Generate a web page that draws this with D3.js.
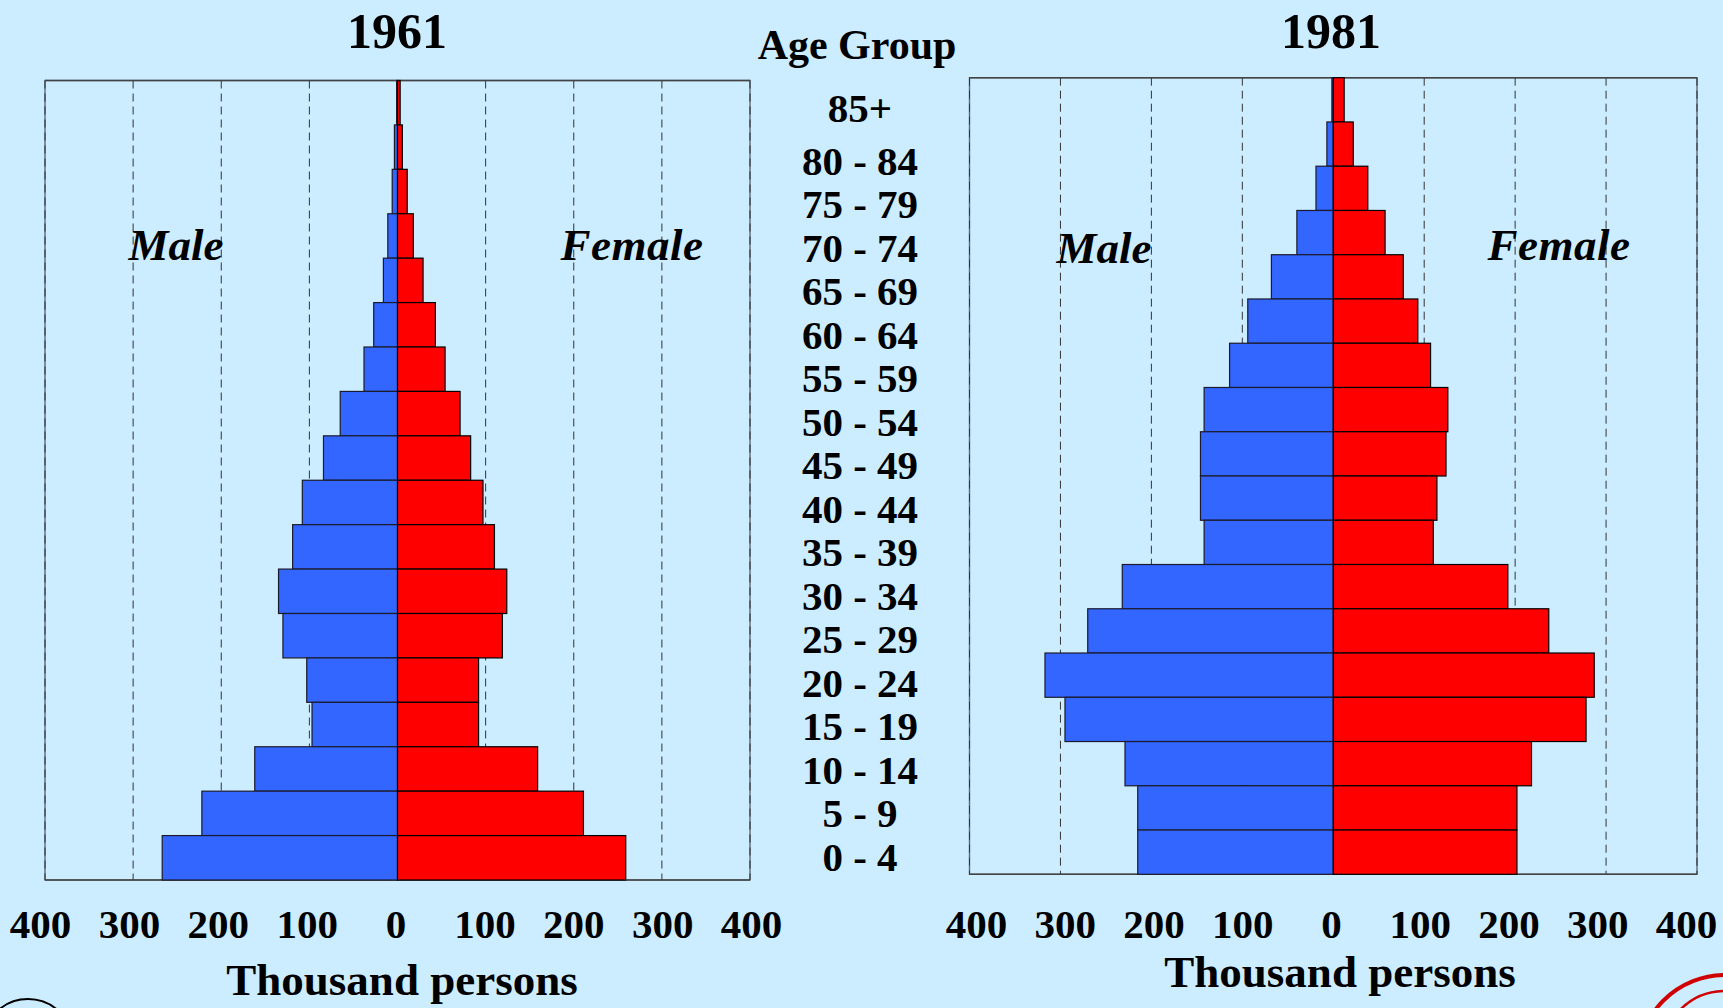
<!DOCTYPE html>
<html>
<head>
<meta charset="utf-8">
<script src="https://cdn.jsdelivr.net/npm/d3@7"></script>
<style>
  html, body { margin: 0; padding: 0; background: #CCECFF; }
  svg { display: block; }
  text { font-family: "Liberation Serif", "Times New Roman", serif; fill: #000; }
</style>
</head>
<body>
<svg id="chart" width="1723" height="1008"></svg>
<script>
// ---- Data ----
const ageGroups = ["85+", "80 - 84", "75 - 79", "70 - 74", "65 - 69", "60 - 64", "55 - 59",
  "50 - 54", "45 - 49", "40 - 44", "35 - 39", "30 - 34", "25 - 29", "20 - 24",
  "15 - 19", "10 - 14", "5 - 9", "0 - 4"];

// Thousand persons, top (85+) to bottom (0 - 4)
const male1961   = [1, 3.5, 6, 11, 16, 27, 38, 65, 84, 108, 119, 135, 130, 103, 97, 162, 222, 267];
const female1961 = [3, 5.5, 11, 18, 29, 43, 54, 71, 83, 97, 110, 124, 119, 92, 92, 159, 211, 259];
const male1981   = [1.5, 7, 19, 40, 68, 94, 114, 142, 146, 146, 142, 232, 270, 317, 295, 229, 215, 215];
const female1981 = [12, 22, 38, 57, 77, 93, 107, 126, 124, 114, 110, 192, 237, 287, 278, 218, 202, 202];

const xTicks = [-400, -300, -200, -100, 0, 100, 200, 300, 400];
const years = ["1961", "1981"];

// ---- Drawing ----
const svg = d3.select("#chart");
svg.append("rect").attr("width", 1723).attr("height", 1008).attr("fill", "#CCECFF");

const panels = [
  { year: years[0], male: male1961, female: female1961,
    x0: 45, x1: 750, y0: 80.5, y1: 880, titleX: 397, tickY: 938, labelRange: [40, 751],
    unitX: 402, unitY: 995, maleX: 176, maleY: 260, femaleX: 632, femaleY: 260 },
  { year: years[1], male: male1981, female: female1981,
    x0: 969.5, x1: 1697, y0: 77.7, y1: 874.3, titleX: 1331, tickY: 938, labelRange: [976, 1686],
    unitX: 1340, unitY: 987, maleX: 1104, maleY: 263, femaleX: 1559, femaleY: 260 }
];

panels.forEach(p => {
  const g = svg.append("g");
  const x = d3.scaleLinear().domain([-400, 400]).range([p.x0, p.x1]);
  const xLabel = d3.scaleLinear().domain([-400, 400]).range(p.labelRange);
  const y = d3.scaleBand().domain(ageGroups).range([p.y0, p.y1]).padding(0);

  // frame
  g.append("rect")
    .attr("x", p.x0).attr("y", p.y0)
    .attr("width", p.x1 - p.x0).attr("height", p.y1 - p.y0)
    .attr("fill", "none").attr("stroke", "#5a6a78").attr("stroke-width", 1.4);

  // dashed gridlines
  g.selectAll("line.grid").data(xTicks.filter(t => t !== 0)).join("line")
    .attr("class", "grid")
    .attr("x1", d => x(d)).attr("x2", d => x(d))
    .attr("y1", p.y0).attr("y2", p.y1)
    .attr("stroke", "#333").attr("stroke-width", 1)
    .attr("stroke-dasharray", "8,5");

  // top & bottom solid borders
  g.append("line").attr("x1", p.x0).attr("x2", p.x1).attr("y1", p.y0).attr("y2", p.y0)
    .attr("stroke", "#444").attr("stroke-width", 1.6);
  g.append("line").attr("x1", p.x0).attr("x2", p.x1).attr("y1", p.y1).attr("y2", p.y1)
    .attr("stroke", "#444").attr("stroke-width", 1.6);

  // male bars
  g.selectAll("rect.male").data(ageGroups).join("rect")
    .attr("class", "male")
    .attr("x", (d, i) => x(-p.male[i]))
    .attr("y", d => y(d))
    .attr("width", (d, i) => x(0) - x(-p.male[i]))
    .attr("height", y.bandwidth())
    .attr("fill", "#3366FF").attr("stroke", "#1b1b2b").attr("stroke-width", 1.2);

  // female bars
  g.selectAll("rect.female").data(ageGroups).join("rect")
    .attr("class", "female")
    .attr("x", x(0))
    .attr("y", d => y(d))
    .attr("width", (d, i) => x(p.female[i]) - x(0))
    .attr("height", y.bandwidth())
    .attr("fill", "#FF0000").attr("stroke", "#000").attr("stroke-width", 1.2);

  // x axis tick labels
  const axis = d3.axisBottom(xLabel).tickValues(xTicks).tickSize(0)
    .tickFormat(d => String(Math.abs(d)));
  const ax = g.append("g")
    .attr("transform", `translate(0,${p.tickY})`)
    .call(axis);
  ax.select(".domain").remove();
  ax.selectAll("text")
    .attr("y", 0).attr("dy", 0)
    .style("font-family", "'Liberation Serif', 'Times New Roman', serif")
    .style("font-size", "41px").style("font-weight", "bold").attr("fill", "#000");

  // title
  g.append("text").attr("x", p.titleX).attr("y", 47.5)
    .attr("text-anchor", "middle")
    .style("font-size", "50px").style("font-weight", "bold")
    .text(p.year);

  // unit label
  g.append("text").attr("x", p.unitX).attr("y", p.unitY)
    .attr("text-anchor", "middle")
    .style("font-size", "45px").style("font-weight", "bold")
    .text("Thousand persons");

  // Male / Female
  g.append("text").attr("x", p.maleX).attr("y", p.maleY)
    .attr("text-anchor", "middle")
    .style("font-size", "45px").style("font-weight", "bold").style("font-style", "italic")
    .text("Male");
  g.append("text").attr("x", p.femaleX).attr("y", p.femaleY)
    .attr("text-anchor", "middle")
    .style("font-size", "45px").style("font-weight", "bold").style("font-style", "italic")
    .style("letter-spacing", "0.5px")
    .text("Female");
});

// Age group column
svg.append("text").attr("x", 857).attr("y", 59)
  .attr("text-anchor", "middle")
  .style("font-size", "42px").style("font-weight", "bold")
  .text("Age Group");

const labelY = d3.scalePoint().domain(ageGroups).range([131, 870.5]);
svg.selectAll("text.age").data(ageGroups).join("text")
  .attr("class", "age")
  .attr("x", 860)
  .attr("y", d => labelY(d) + (d === "85+" ? -9 : 0))
  .attr("text-anchor", "middle")
  .style("font-size", "41px").style("font-weight", "bold")
  .text(d => d);

// corner logo fragments
svg.append("circle").attr("cx", 28).attr("cy", 1044).attr("r", 45)
  .attr("fill", "none").attr("stroke", "#000").attr("stroke-width", 2);
svg.append("circle").attr("cx", 1725).attr("cy", 1062).attr("r", 87)
  .attr("fill", "none").attr("stroke", "#D00000").attr("stroke-width", 4);
svg.append("circle").attr("cx", 1725).attr("cy", 1054).attr("r", 63)
  .attr("fill", "none").attr("stroke", "#D00000").attr("stroke-width", 2.5);
</script>
</body>
</html>
